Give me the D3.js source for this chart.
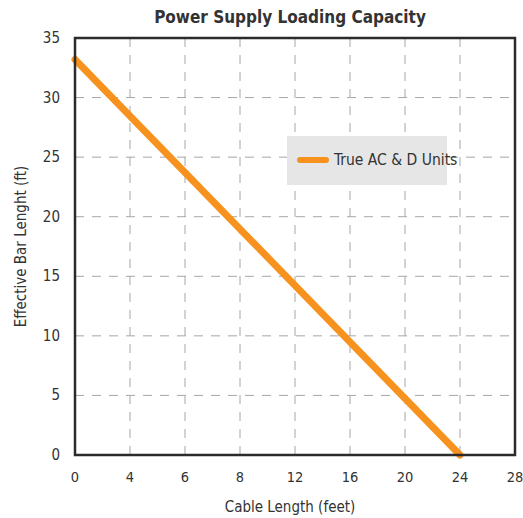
<!DOCTYPE html>
<html>
<head>
<meta charset="utf-8">
<style>
  body { margin: 0; background: #fff; }
  svg { font-family: 'DejaVu Sans Condensed', 'Liberation Sans Narrow', 'Arial Narrow', sans-serif; }
</style>
</head>
<body>
<svg width="523" height="518"></svg>
<script src="https://d3js.org/d3.v7.min.js"></script>
<script>
  // data
  let xCategories = ["0", "4", "6", "8", "12", "16", "20", "24", "28"]
  let yTicks = [0, 5, 10, 15, 20, 25, 30, 35]
  let seriesX = ["0", "24"]
  let seriesY = [33.2, 0]
  let seriesName = "True AC & D Units"

  let margin = { left: 75, right: 8, top: 38, bottom: 63 }
  let width = 523, height = 518

  let svg = d3.select("svg")

  let x = d3.scalePoint()
    .domain(xCategories)
    .range([margin.left, width - margin.right])

  let y = d3.scaleLinear()
    .domain([0, 35])
    .range([height - margin.bottom, margin.top])

  // grid
  svg.append("g")
    .selectAll("line")
    .data(xCategories.slice(1, -1))
    .join("line")
    .attr("x1", d => x(d)).attr("x2", d => x(d))
    .attr("y1", y(35)).attr("y2", y(0))
    .style("stroke", "#a6a6a6")
    .style("stroke-dasharray", "9,8")

  svg.append("g")
    .selectAll("line")
    .data(yTicks.slice(1, -1))
    .join("line")
    .attr("x1", x("0")).attr("x2", x("28"))
    .attr("y1", d => y(d)).attr("y2", d => y(d))
    .style("stroke", "#a6a6a6")
    .style("stroke-dasharray", "9,8")

  // series
  let pts = seriesX.map((c, i) => [x(c), y(seriesY[i])])
  svg.append("path")
    .attr("d", d3.line()(pts))
    .style("fill", "none")
    .style("stroke", "#f7921e")
    .style("stroke-width", 7)
    .style("stroke-linecap", "round")

  // frame
  svg.append("rect")
    .attr("x", x("0")).attr("y", y(35))
    .attr("width", x("28") - x("0"))
    .attr("height", y(0) - y(35))
    .style("fill", "none")
    .style("stroke", "#2b2b2b")
    .style("stroke-width", 2.5)

  // tick labels
  svg.append("g")
    .selectAll("text")
    .data(xCategories)
    .join("text")
    .attr("x", d => x(d))
    .attr("y", y(0) + 27)
    .attr("text-anchor", "middle")
    .style("font-size", "14.5px")
    .style("fill", "#333")
    .text(d => d)

  svg.append("g")
    .selectAll("text")
    .data(yTicks)
    .join("text")
    .attr("x", margin.left - 15)
    .attr("y", d => y(d) + 5)
    .attr("text-anchor", "end")
    .style("font-size", "15px")
    .style("fill", "#333")
    .text(d => d)

  // titles
  svg.append("text")
    .attr("x", 290).attr("y", 23)
    .attr("text-anchor", "middle")
    .style("font-size", "17px")
    .style("font-weight", "bold")
    .style("fill", "#333")
    .text("Power Supply Loading Capacity")

  svg.append("text")
    .attr("x", 290).attr("y", 512)
    .attr("text-anchor", "middle")
    .style("font-size", "15px")
    .style("fill", "#333")
    .text("Cable Length (feet)")

  svg.append("text")
    .attr("transform", "translate(26," + ((y(0) + y(35)) / 2) + ") rotate(-90)")
    .attr("text-anchor", "middle")
    .style("font-size", "15px")
    .style("fill", "#333")
    .text("Effective Bar Lenght (ft)")

  // legend
  let lg = svg.append("g").attr("transform", "translate(287,136)")
  lg.append("rect")
    .attr("width", 160).attr("height", 49)
    .style("fill", "#e6e6e6")
  lg.append("line")
    .attr("x1", 13).attr("x2", 39)
    .attr("y1", 24).attr("y2", 24)
    .style("stroke", "#f7921e")
    .style("stroke-width", 6)
    .style("stroke-linecap", "round")
  lg.append("text")
    .attr("x", 47).attr("y", 29)
    .style("font-size", "15.5px")
    .style("fill", "#333")
    .text(seriesName)
</script>
</body>
</html>
